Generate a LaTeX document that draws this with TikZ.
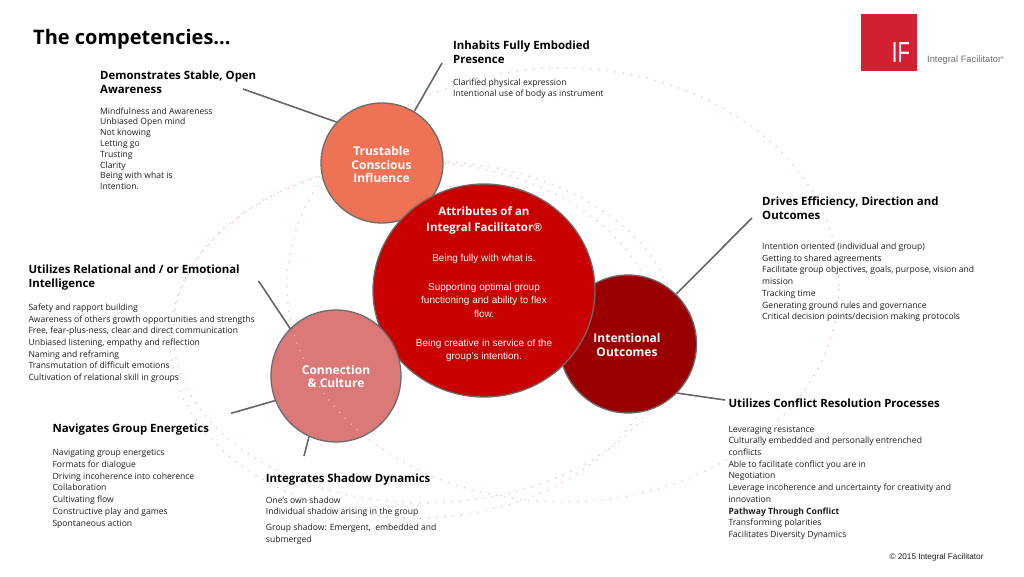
\documentclass[tikz,border=0pt]{standalone}
\usepackage{fontspec}
\setmainfont{Open Sans}
\newfontfamily\arialf{Liberation Sans}
\usetikzlibrary{shapes.geometric}
\definecolor{trustc}{HTML}{EE7355}
\definecolor{centc}{HTML}{C80000}
\definecolor{intc}{HTML}{9A0000}
\definecolor{connc}{HTML}{DB7878}
\definecolor{ringc}{HTML}{6B6B6B}
\definecolor{linec}{HTML}{666666}
\definecolor{dotc}{HTML}{F4BCC0}
\definecolor{logoc}{HTML}{D21F32}
\definecolor{txtc}{HTML}{1E1E1E}
\definecolor{logotxt}{HTML}{707070}
\newcommand\blk[6]{\foreach \ln [count=\k from 0] in {#6} {\node[#1] (#2\k) at (#3,{#4+\k*#5}) {\ln};}}
\newcommand\orbitset{%
  \path[orbit] (563,285) ellipse [x radius=276pt, y radius=217pt];
  \path[orbit] (415,340) ellipse [x radius=245pt, y radius=178pt];
  \path[orbit] (425,332) ellipse [x radius=252pt, y radius=171pt];
}
\tikzset{
  bodytxt/.style={anchor=base west, inner sep=0pt, font=\fontsize{8.6}{10}\selectfont, text=txtc},
  headtxt/.style={anchor=base west, inner sep=0pt, font=\bfseries\fontsize{11.4}{14}\selectfont, text=black},
  ball/.style={ellipse, draw=ringc, line width=1.3pt, inner sep=0pt},
  conn/.style={draw=linec, line width=1.6pt},
  orbit/.style={draw=dotc, line width=1.7pt, line cap=round, dash pattern=on 0pt off 8.2pt},
  balltxt/.style={anchor=base, inner sep=0pt, text=white, font=\bfseries\fontsize{12}{14}\selectfont},
  centhead/.style={anchor=base, inner sep=0pt, text=white, font=\bfseries\fontsize{11.5}{14}\selectfont},
  centtxt/.style={anchor=base, inner sep=0pt, text=white, font=\arialf\fontsize{10}{12}\selectfont},
}
\begin{document}
\begin{tikzpicture}[x=1pt,y=-1pt]
\useasboundingbox[fill=white] (0,0) rectangle (1024,576);
% orbits
\orbitset
% circles
\node[ball, fill=trustc, minimum width=122pt, minimum height=120pt] (trust) at (382,163) {};
\node[ball, fill=intc, minimum width=137pt, minimum height=138pt] (intent) at (628,344) {};
% connector free ends
\coordinate (demA) at (243,89);
\coordinate (inhA) at (442,63);
\coordinate (drvA) at (752,218);
\coordinate (cnfA) at (725,400);
\coordinate (relA) at (258.6,281);
\coordinate (navA) at (231,413.3);
\coordinate (shaA) at (304,456);
\node[ball, fill=centc, minimum width=222pt, minimum height=213pt] (cent) at (484,290.5) {};
\node[ball, fill=connc, minimum width=130pt, minimum height=132pt] (conn) at (336,376) {};
\begin{scope}
  \clip (336,376) circle [radius=64pt];
  \orbitset
\end{scope}
% connectors
\draw[conn] (demA) -- (trust.138);
\draw[conn] (inhA) -- (trust.58);
\draw[conn] (drvA) -- (intent.46);
\draw[conn] (cnfA) -- (intent.-45.6);
\draw[conn] (relA) -- (conn.134);
\draw[conn] (navA) -- (conn.202);
\draw[conn] (shaA) -- (conn.246);
% circle labels
\node[balltxt] (t1) at (381.5,155) {Trustable};
\node[balltxt] (t2) at (381.5,169) {Conscious};
\node[balltxt] (t3) at (381.5,182.7) {Influence};
\node[balltxt] (i1) at (627,342.5) {Intentional};
\node[balltxt] (i2) at (627,356) {Outcomes};
\node[balltxt] (c1) at (336,374) {Connection};
\node[balltxt] (c2) at (336,387.3) {\& Culture};
\node[centhead] (a1) at (484,215.3) {Attributes of an};
\node[centhead] (a2) at (484,231) {Integral Facilitator{\arialf ®}};
\node[centtxt] (b1) at (484,261.7) {Being fully with what is.};
\node[centtxt] (b2) at (484,290) {Supporting optimal group};
\node[centtxt] (b3) at (484,303.5) {functioning and ability to flex};
\node[centtxt] (b4) at (484,317.2) {flow.};
\node[centtxt] (b5) at (484,346) {Being creative in service of the};
\node[centtxt] (b6) at (484,359.5) {group’s intention.};
% title
\node[anchor=base west, inner sep=0pt, font=\bfseries\fontsize{20}{24}\selectfont] (title) at (33,44) {The competencies...};
% text blocks
\blk{headtxt}{demH}{100}{79.3}{14.3}{{Demonstrates Stable, Open},Awareness}
\blk{bodytxt}{demB}{100}{114}{10.8}{Mindfulness and Awareness,Unbiased Open mind,Not knowing,Letting go,Trusting,Clarity,Being with what is,Intention.}
\blk{headtxt}{inhH}{453}{49.3}{14.4}{Inhabits Fully Embodied,Presence}
\blk{bodytxt}{inhB}{453}{85.3}{10.8}{Clarified physical expression,Intentional use of body as instrument}
\blk{headtxt}{drvH}{762}{205}{14.5}{{Drives Efficiency, Direction and},Outcomes}
\blk{bodytxt}{drvB}{762}{249.3}{11.75}{Intention oriented (individual and group),Getting to shared agreements,{Facilitate group objectives, goals, purpose, vision and},mission,Tracking time,Generating ground rules and governance,Critical decision points/decision making protocols}
\blk{headtxt}{cnfH}{728.3}{407.3}{14.5}{Utilizes Conflict Resolution Processes}
\blk{bodytxt}{cnfB}{728.3}{432}{11.74}{Leveraging resistance,Culturally embedded and personally entrenched,conflicts,Able to facilitate conflict you are in,Negotiation,Leverage incoherence and uncertainty for creativity and,innovation,{\bfseries Pathway Through Conflict},Transforming polarities,Facilitates Diversity Dynamics}
\blk{headtxt}{relH}{28.3}{273.3}{14.3}{Utilizes Relational and / or Emotional,Intelligence}
\blk{bodytxt}{relB}{28.3}{310.3}{11.73}{Safety and rapport building,Awareness of others growth opportunities and strengths,{Free, fear-plus-ness, clear and direct communication},{Unbiased listening, empathy and reflection},Naming and reframing,Transmutation of difficult emotions,Cultivation of relational skill in groups}
\blk{headtxt}{navH}{52.3}{432.7}{14.3}{Navigates Group Energetics}
\blk{bodytxt}{navB}{52.3}{455.7}{11.73}{Navigating group energetics,Formats for dialogue,Driving incoherence into coherence,Collaboration,Cultivating flow,Constructive play and games,Spontaneous action}
\blk{headtxt}{shaH}{265.7}{482}{14.3}{Integrates Shadow Dynamics}
\blk{bodytxt}{shaB}{265.7}{503.3}{10.7}{One’s own shadow,Individual shadow arising in the group}
\blk{bodytxt}{shaC}{265.7}{530.3}{11.7}{{Group shadow: Emergent,\ \ embedded and},submerged}
% copyright
\node[anchor=base west, inner sep=0pt, font=\arialf\fontsize{8.2}{9}\selectfont, text=txtc] (copy) at (889.3,559.7) {© 2015 Integral Facilitator};
% logo
\node[fill=logoc, minimum width=56pt, minimum height=57pt, inner sep=0pt, anchor=north west] (logo) at (861,14) {};
\node[anchor=base, inner sep=0pt, text=white, font=\arialf\fontsize{29}{30}\selectfont] (iflab) at (901,62) {\scalebox{0.7}[1]{IF}};
\node[anchor=base west, inner sep=0pt, text=logotxt, font=\arialf\fontsize{9.3}{10}\selectfont] (logotext) at (927,62.7) {Integral Facilitator\raisebox{3.5pt}{\fontsize{4}{4}\selectfont ®}};
\end{tikzpicture}
\end{document}
